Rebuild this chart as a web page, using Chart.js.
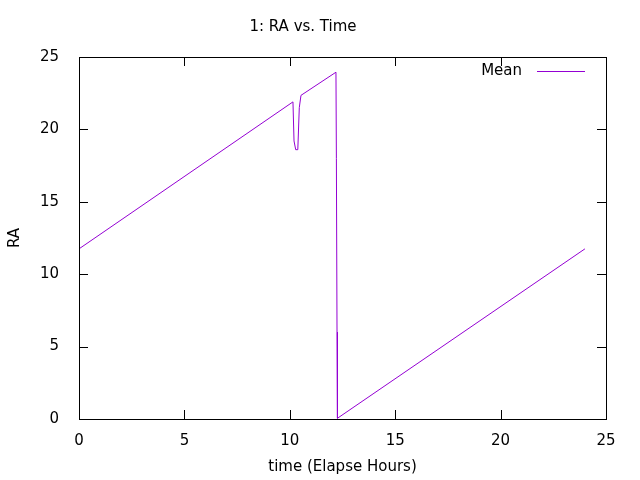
<!DOCTYPE html>
<html>
<head>
<script src="https://cdn.jsdelivr.net/npm/chart.js@4"></script>
<style>body{margin:0;background:#fff}</style>
</head>
<body>
<canvas id="c" width="640" height="480"></canvas>
<script>
// RA vs time
const times = [0, 10.15, 10.2, 10.28, 10.38, 10.45, 10.53, 12.19, 12.21, 12.24, 12.26, 24];
const raMean = [11.75, 21.9, 19.2, 18.6, 18.6, 21.5, 22.35, 23.95, 18, 6, 0.05, 11.75];
const xTicks = [0, 5, 10, 15, 20, 25];
const yTicks = [0, 5, 10, 15, 20, 25];

const font = {family: 'DejaVu Sans, sans-serif', size: 15, weight: 'normal'};

// gnuplot-style frame, inward mirrored ticks and legend
const framePlugin = {
    id: 'frame',
    afterDraw(chart) {
        const {ctx, chartArea: a, scales} = chart;
        ctx.save();
        ctx.strokeStyle = '#000';
        ctx.lineWidth = 1;
        ctx.strokeRect(a.left + 0.5, a.top + 0.5, a.right - a.left, a.bottom - a.top);
        ctx.beginPath();
        xTicks.forEach(v => {
            const x = Math.round(scales.x.getPixelForValue(v)) + 0.5;
            ctx.moveTo(x, a.bottom); ctx.lineTo(x, a.bottom - 9);
            ctx.moveTo(x, a.top); ctx.lineTo(x, a.top + 9);
        });
        yTicks.forEach(v => {
            const y = Math.round(scales.y.getPixelForValue(v)) + 0.5;
            ctx.moveTo(a.left, y); ctx.lineTo(a.left + 9, y);
            ctx.moveTo(a.right, y); ctx.lineTo(a.right - 9, y);
        });
        ctx.stroke();
        // legend
        ctx.font = '15px DejaVu Sans, sans-serif';
        ctx.fillStyle = '#000';
        ctx.textAlign = 'right';
        ctx.textBaseline = 'middle';
        ctx.fillText('Mean', 522, 71);
        ctx.strokeStyle = '#9400d3';
        ctx.beginPath();
        ctx.moveTo(537, 71.5); ctx.lineTo(585, 71.5);
        ctx.stroke();
        ctx.restore();
    }
};

new Chart(document.getElementById('c'), {
    type: 'line',
    data: {
        datasets: [{
            label: 'Mean',
            data: times.map((t, i) => ({x: t, y: raMean[i]})),
            borderColor: '#9400d3',
            borderWidth: 1,
            pointRadius: 0,
            tension: 0
        }]
    },
    options: {
        responsive: false,
        animation: false,
        layout: {padding: {right: 34}},
        plugins: {
            legend: {display: false},
            tooltip: {enabled: false},
            title: {
                display: true,
                text: '1: RA vs. Time',
                color: '#000',
                font: font,
                padding: {top: 18, bottom: 21}
            }
        },
        scales: {
            x: {
                type: 'linear',
                min: 0, max: 25,
                grid: {display: false},
                border: {display: false},
                afterBuildTicks: s => { s.ticks = xTicks.map(v => ({value: v})); },
                afterFit: s => { s.height = 61; },
                ticks: {color: '#000', font: font, padding: 5},
                title: {display: true, text: 'time (Elapse Hours)', color: '#000', font: font, padding: {top: 4}}
            },
            y: {
                min: 0, max: 25,
                grid: {display: false},
                border: {display: false},
                afterBuildTicks: s => { s.ticks = yTicks.map(v => ({value: v})); },
                afterFit: s => { s.width = 79; },
                ticks: {color: '#000', font: font, padding: 12},
                title: {display: true, text: 'RA', color: '#000', font: font, padding: {top: 6, bottom: 0}}
            }
        }
    },
    plugins: [framePlugin]
});
</script>
</body>
</html>
